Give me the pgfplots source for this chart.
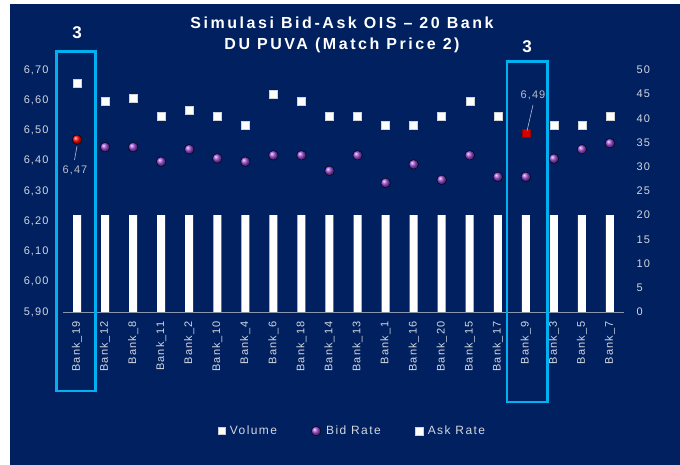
\documentclass[border=0pt]{standalone}
\usepackage{pgfplots}
\pgfplotsset{compat=1.18}
\usepackage{fontspec}
\setmainfont{Liberation Sans}
\newfontfamily\titlefont[LetterSpace=16]{Liberation Sans}
\newfontfamily\tickfont[LetterSpace=10]{Liberation Sans}
\newfontfamily\legfont[LetterSpace=12]{Liberation Sans}
\definecolor{navy}{HTML}{00205F}
\definecolor{boxblue}{HTML}{00B0F0}
\definecolor{bidpurple}{HTML}{9A4AD8}
\definecolor{ticktext}{HTML}{D3D7E0}
\definecolor{axisgrey}{HTML}{8C95AD}
\definecolor{labgrey}{HTML}{B8BDCB}
\pgfdeclarehorizontalshading{barshade}{100bp}{color(0bp)=(gray!45); color(18bp)=(white); color(82bp)=(white); color(100bp)=(gray!45)}
\begin{document}
\begin{tikzpicture}[x=1pt,y=1pt]
\fill[white] (0,0) rectangle (680,465);
\fill[navy] (10,0) rectangle (680,461);
% volume axis (right)
\begin{axis}[
  at={(63pt,153pt)}, anchor=south west,
  scale only axis, width=561pt, height=242pt,
  xmin=-0.5, xmax=19.5, ymin=0, ymax=50,
  hide x axis,
  axis y line*=right,
  y axis line style={draw=none},
  ytick={0,5,...,50},
  major tick length=0pt,
  yticklabel style={anchor=west, xshift=9pt, text=ticktext, font=\tickfont\fontsize{11}{13}\selectfont},
  /pgf/number format/assume math mode=true,
]
\addplot[ybar, bar width=8pt, draw=none, shade, shading=barshade] coordinates {
(0,20) (1,20) (2,20) (3,20) (4,20) (5,20) (6,20) (7,20) (8,20) (9,20)
(10,20) (11,20) (12,20) (13,20) (14,20) (15,20) (16,20) (17,20) (18,20) (19,20)};
\end{axis}
% rate axis (left)
\begin{axis}[
  at={(63pt,153pt)}, anchor=south west,
  scale only axis, width=561pt, height=242pt,
  xmin=-0.5, xmax=19.5, ymin=5.90, ymax=6.70,
  axis x line*=bottom, axis y line*=left,
  x axis line style={draw=axisgrey, line width=0.7pt},
  y axis line style={draw=none},
  major tick length=0pt,
  ytick={5.9,6.0,6.1,6.2,6.3,6.4,6.5,6.6,6.7},
  yticklabel style={/pgf/number format/fixed, /pgf/number format/fixed zerofill, /pgf/number format/precision=2, /pgf/number format/use comma, /pgf/number format/assume math mode=true},
  yticklabel style={text=ticktext, font=\tickfont\fontsize{11}{13}\selectfont, xshift=-11pt},
  xtick={0,...,19},
  xticklabels={Bank\_19,Bank\_12,Bank\_8,Bank\_11,Bank\_2,Bank\_10,Bank\_4,Bank\_6,Bank\_18,Bank\_14,Bank\_13,Bank\_1,Bank\_16,Bank\_20,Bank\_15,Bank\_17,Bank\_9,Bank\_3,Bank\_5,Bank\_7},
  xticklabel style={rotate=90, anchor=east, text=ticktext, font=\tickfont\fontsize{11}{13}\selectfont, xshift=-6pt},
  clip=false,
  legend style={at={(0.516,-0.492)}, anchor=center, legend columns=3, draw=none, fill=none, text=ticktext, font=\legfont\fontsize{12}{14}\selectfont,
    /tikz/every even column/.append style={column sep=32pt},
    /tikz/every odd column/.append style={column sep=3pt}},
  legend cell align=left,
]
\addlegendimage{only marks, mark=square*, mark size=3.5pt, mark options={fill=white, draw=gray!40}}
\addlegendentry{Volume}
% bid rate
\addplot[only marks, mark=ball, mark size=4.8pt, mark options={ball color=bidpurple}] coordinates {
(1,6.445) (2,6.445) (3,6.397) (4,6.438) (5,6.408) (6,6.397) (7,6.418) (8,6.418) (9,6.367)
(10,6.418) (11,6.327) (12,6.388) (13,6.337) (14,6.418) (15,6.347) (16,6.347) (17,6.407) (18,6.438) (19,6.458)};
\addlegendentry{Bid Rate}
% ask rate
\addplot[only marks, mark=square*, mark size=4pt, mark options={fill=white, draw=gray!35}] coordinates {
(0,6.656) (1,6.598) (2,6.608) (3,6.548) (4,6.568) (5,6.548) (6,6.518) (7,6.62) (8,6.598) (9,6.548)
(10,6.548) (11,6.518) (12,6.518) (13,6.548) (14,6.598) (15,6.548) (17,6.518) (18,6.518) (19,6.548)};
\addlegendentry{Ask Rate}
% highlighted points
\addplot[forget plot, only marks, mark=ball, mark size=4.8pt, mark options={ball color=red}] coordinates {(0,6.47)};
\addplot[forget plot, only marks, mark=square*, mark size=4pt, mark options={fill=red!85!black, draw=red!60!black}] coordinates {(16,6.49)};
\end{axis}
% annotations
\draw[labgrey, line width=0.6pt] (77,319) -- (74.5,305);
\node[text=labgrey, font=\tickfont\fontsize{11}{13}\selectfont] at (75,295) {6,47};
\draw[labgrey, line width=0.6pt] (527,334) -- (533,360);
\node[text=labgrey, font=\tickfont\fontsize{11}{13}\selectfont] at (533,370) {6,49};
% boxes
\draw[boxblue, line width=2.6pt] (56.5,74) rectangle (95.5,413.5);
\draw[boxblue, line width=2.6pt] (507,63) rectangle (547.5,403.5);
\node[text=white, font=\fontsize{17}{19}\bfseries\selectfont] at (77,432) {3};
\node[text=white, font=\fontsize{17}{19}\bfseries\selectfont] at (527,418) {3};
% title
\node[text=white, font=\titlefont\fontsize{16}{18}\bfseries\selectfont, align=center] at (342,442) {Simulasi Bid-Ask OIS – 20 Bank};
\node[text=white, font=\titlefont\fontsize{16}{18}\bfseries\selectfont, align=center] at (342,420) {DU PUVA (Match Price 2)};
\end{tikzpicture}
\end{document}
